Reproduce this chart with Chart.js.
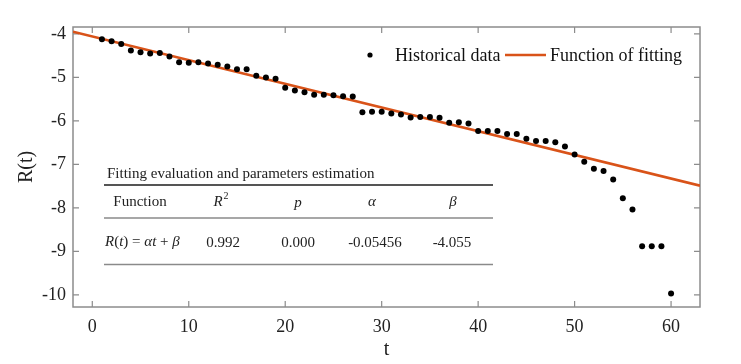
<!DOCTYPE html>
<html><head><meta charset="utf-8">
<script src="https://cdn.jsdelivr.net/npm/chart.js@4"></script>
<style>html,body{margin:0;padding:0;background:#fff}#wrap{width:741px;height:364px;position:relative}</style>
</head><body><div id="wrap"><canvas id="c" width="741" height="364"></canvas></div>
<script>
// ---- data ----
const tValues = [1,2,3,4,5,6,7,8,9,10,11,12,13,14,15,16,17,18,19,20,21,22,23,24,25,26,27,28,29,30,31,32,33,34,35,36,37,38,39,40,41,42,43,44,45,46,47,48,49,50,51,52,53,54,55,56,57,58,59,60];
const rValues = [-4.12,-4.17,-4.23,-4.38,-4.42,-4.45,-4.44,-4.52,-4.65,-4.66,-4.65,-4.68,-4.71,-4.75,-4.81,-4.81,-4.96,-5.00,-5.03,-5.24,-5.30,-5.34,-5.40,-5.40,-5.41,-5.43,-5.44,-5.80,-5.79,-5.79,-5.83,-5.85,-5.92,-5.91,-5.91,-5.93,-6.04,-6.03,-6.06,-6.23,-6.23,-6.23,-6.30,-6.30,-6.41,-6.46,-6.46,-6.49,-6.59,-6.77,-6.94,-7.10,-7.15,-7.35,-7.78,-8.04,-8.88,-8.88,-8.88,-9.97];
const fitT = [-2, 63];
const fitR = [-3.95, -7.49];
const seriesNames = ['Historical data', 'Function of fitting'];
const xAxisTitle = 't';
const yAxisTitle = 'R(t)';
const tableTitle = 'Fitting evaluation and parameters estimation';
const tableHeaders = ['Function', 'R', 'p', 'α', 'β'];
const tableValues = ['0.992', '0.000', '-0.05456', '-4.055'];

const SERIF = '"Liberation Serif", "DejaVu Serif", serif';
const FRAME = '#8c8c8c';
const ORANGE = '#D95319';

const framePlugin = {
  id: 'frame',
  beforeDatasetsDraw(chart) {
    const {ctx, chartArea: a, scales: {x, y}} = chart;
    ctx.save();
    ctx.strokeStyle = FRAME;
    ctx.lineWidth = 1.5;
    ctx.strokeRect(a.left, a.top, a.right - a.left, a.bottom - a.top);
    ctx.lineWidth = 1.2;
    const L = 6;
    ctx.beginPath();
    x.ticks.forEach(t => {
      const px = x.getPixelForValue(t.value);
      ctx.moveTo(px, a.bottom); ctx.lineTo(px, a.bottom - L);
      ctx.moveTo(px, a.top); ctx.lineTo(px, a.top + L);
    });
    y.ticks.forEach(t => {
      const py = y.getPixelForValue(t.value);
      ctx.moveTo(a.left, py); ctx.lineTo(a.left + L, py);
      ctx.moveTo(a.right, py); ctx.lineTo(a.right - L, py);
    });
    ctx.stroke();

    // table
    ctx.fillStyle = '#222';
    ctx.textBaseline = 'middle';
    ctx.font = '15px ' + SERIF;
    ctx.textAlign = 'left';
    ctx.fillText(tableTitle, 107, 174);
    ctx.strokeStyle = '#555';
    ctx.lineWidth = 2;
    ctx.beginPath(); ctx.moveTo(104, 185); ctx.lineTo(493, 185); ctx.stroke();
    ctx.strokeStyle = '#8a8a8a';
    ctx.lineWidth = 1.5;
    ctx.beginPath(); ctx.moveTo(104, 218); ctx.lineTo(493, 218);
    ctx.moveTo(104, 264.5); ctx.lineTo(493, 264.5); ctx.stroke();

    const hx = [140, 221, 298, 372, 453];
    ctx.textAlign = 'center';
    ctx.font = '15px ' + SERIF;
    ctx.fillText(tableHeaders[0], hx[0], 202);
    ctx.font = 'italic 15px ' + SERIF;
    ctx.fillText(tableHeaders[1], hx[1] - 3, 202);
    ctx.font = '10px ' + SERIF;
    ctx.fillText('2', hx[1] + 5, 196);
    ctx.font = 'italic 15px ' + SERIF;
    ctx.fillText(tableHeaders[2], hx[2], 203);
    ctx.fillText(tableHeaders[3], hx[3], 202);
    ctx.fillText(tableHeaders[4], hx[4], 202);

    // formula
    const parts = [['R',1],['(',0],['t',1],[') = ',0],['α',1],['t',1],[' + ',0],['β',1]];
    let cx = 105;
    ctx.textAlign = 'left';
    parts.forEach(([s, it]) => {
      ctx.font = (it ? 'italic ' : '') + '15px ' + SERIF;
      ctx.fillText(s, cx, 242);
      cx += ctx.measureText(s).width;
    });
    const vx = [223, 298, 375, 452];
    ctx.textAlign = 'center';
    ctx.font = '15px ' + SERIF;
    tableValues.forEach((v, i) => ctx.fillText(v, vx[i], 243));
    ctx.restore();
  },
  afterDatasetsDraw(chart) {
    const {ctx} = chart;
    const ds = chart.data.datasets;
    ctx.save();
    ctx.fillStyle = ds[0].backgroundColor;
    ctx.beginPath(); ctx.arc(370, 55, 2.6, 0, Math.PI * 2); ctx.fill();
    ctx.strokeStyle = ds[1].borderColor;
    ctx.lineWidth = ds[1].borderWidth;
    ctx.beginPath(); ctx.moveTo(505, 55); ctx.lineTo(546, 55); ctx.stroke();
    ctx.fillStyle = '#111';
    ctx.font = '18px ' + SERIF;
    ctx.textBaseline = 'middle';
    ctx.textAlign = 'left';
    ctx.fillText(ds[0].label, 395, 56);
    ctx.fillText(ds[1].label, 550, 56);
    ctx.restore();
  }
};

new Chart(document.getElementById('c'), {
  type: 'scatter',
  data: {
    datasets: [
      {
        label: seriesNames[0],
        data: tValues.map((t, i) => ({x: t, y: rValues[i]})),
        backgroundColor: '#000',
        borderColor: '#000',
        pointRadius: 3,
        pointBorderWidth: 0,
        order: 1
      },
      {
        type: 'line',
        label: seriesNames[1],
        data: fitT.map((t, i) => ({x: t, y: fitR[i]})),
        borderColor: ORANGE,
        backgroundColor: ORANGE,
        borderWidth: 2.6,
        pointRadius: 0,
        fill: false,
        order: 2
      }
    ]
  },
  options: {
    responsive: false,
    animation: false,
    layout: {padding: {top: 27, right: 41, left: 0, bottom: 0}},
    plugins: {legend: {display: false}, tooltip: {enabled: false}},
    scales: {
      x: {
        type: 'linear', position: 'bottom', min: -2, max: 63,
        afterFit: s => { s.height = 57; },
        grid: {display: false, drawTicks: false},
        border: {display: false},
        ticks: {stepSize: 10, includeBounds: false, padding: 9, color: '#222',
                font: {family: SERIF, size: 18}},
        title: {display: true, text: xAxisTitle, color: '#222',
                font: {family: SERIF, size: 20}, padding: {top: 0, bottom: 2}}
      },
      y: {
        type: 'linear', position: 'left', min: -10.28, max: -3.84,
        afterFit: s => { s.width = 73; },
        grid: {display: false, drawTicks: false},
        border: {display: false},
        ticks: {stepSize: 1, includeBounds: false, padding: 7, color: '#222',
                font: {family: SERIF, size: 18}},
        title: {display: true, text: yAxisTitle, color: '#222',
                font: {family: SERIF, size: 20}, padding: {top: 15, bottom: 0}}
      }
    }
  },
  plugins: [framePlugin]
});
</script></body></html>
